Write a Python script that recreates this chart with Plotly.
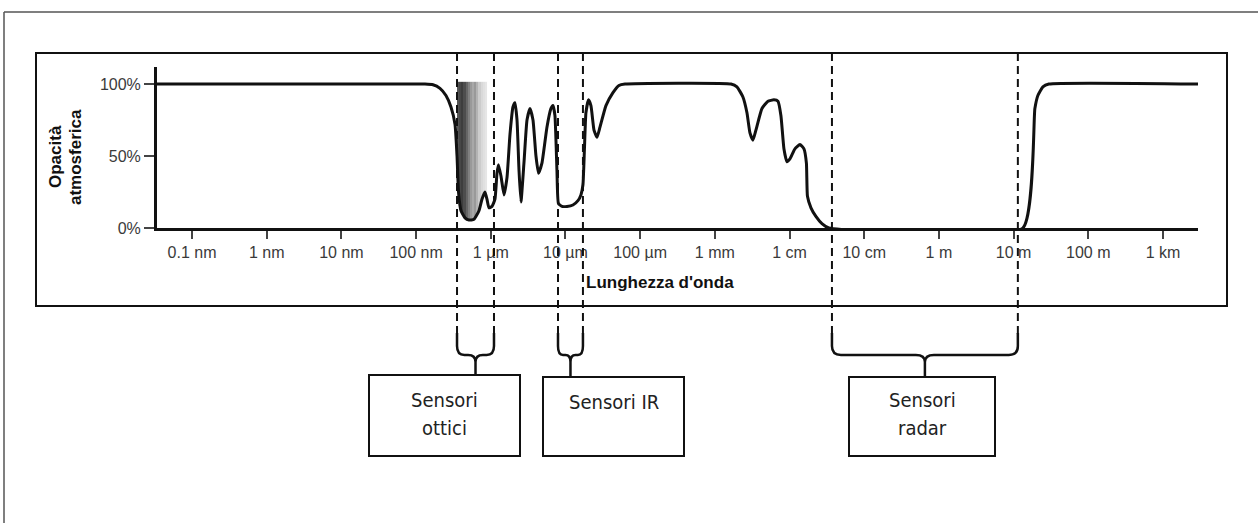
import numpy as np
import plotly.graph_objects as go

# ---------------- data ----------------
# wavelength given as log10(lambda / m)
wl_exp = [-10.469, -6.881, -6.774, -6.680, -6.600, -6.533, -6.479, -6.452, -6.432, -6.399,
          -6.345, -6.292, -6.225, -6.158, -6.118, -6.078, -6.051, -6.024, -5.984, -5.944,
          -5.917, -5.897, -5.863, -5.823, -5.783, -5.743, -5.703, -5.676, -5.649, -5.622,
          -5.596, -5.556, -5.515, -5.475, -5.435, -5.395, -5.361, -5.315, -5.248, -5.194,
          -5.167, -5.141, -5.114, -5.094, -5.047, -4.980, -4.900, -4.833, -4.793, -4.766,
          -4.746, -4.726, -4.692, -4.659, -4.618, -4.578, -4.538, -4.458, -4.364, -4.284,
          -4.203, -2.784, -2.704, -2.624, -2.570, -2.530, -2.490, -2.450, -2.369, -2.289,
          -2.209, -2.155, -2.115, -2.075, -2.035, -1.995, -1.928, -1.861, -1.807, -1.774,
          -1.760, -1.713, -1.647, -1.566, -1.473, 1.124, 1.285, 1.325, 1.392, 1.472, 3.469]
opacity_pct = [100, 100, 99.5, 97, 92, 84, 72, 50, 25, 12,
               7, 5.5, 6, 12, 20, 25, 20, 14, 15, 20,
               38, 44, 36, 23, 35, 65, 84, 87, 75, 40,
               18, 45, 75, 83, 75, 50, 38, 45, 70, 83,
               85, 78, 40, 17, 15, 15, 16, 19, 23, 30,
               55, 80, 89, 85, 68, 63, 70, 85, 94, 99,
               100, 100, 98, 91, 80, 66, 61, 68, 83, 88,
               89, 88, 78, 55, 46, 48, 55, 58, 55, 45,
               22, 14, 8, 3, 0, 0, 83, 92, 98, 100, 100]

tick_exp = list(range(-10, 4))
tick_labels = ["0.1 nm", "1 nm", "10 nm", "100 nm", "1 µm", "10 µm", "100 µm",
               "1 mm", "1 cm", "10 cm", "1 m", "10 m", "100 m", "1 km"]
y_ticks = [0, 50, 100]
y_tick_labels = ["0%", "50%", "100%"]

visible_band = [-6.452, -6.051]      # log10(m), grey-shaded visible light
visible_top = 101.5
visible_shade = [0.33, 0.28, 0.24, 0.30, 0.40, 0.50, 0.60, 0.66, 0.60, 0.70, 0.80, 0.85, 0.88, 0.90]

sensor_lines = [["Sensori", "ottici"], ["Sensori IR"], ["Sensori", "radar"]]
sensor_lo = [-6.452, -5.100, -1.432]
sensor_hi = [-5.957, -4.766, 1.057]

x_title = "Lunghezza d'onda"
y_title = ["Opacità", "atmosferica"]

# ---------------- layout constants ----------------
W, H = 1258, 523
LM, RM, TM, BM = 157, 60, 67, 295
X_RANGE = [-10.469, 3.469]
Y_RANGE = [0, 111.8]
PW, PH = W - LM - RM, H - TM - BM
PPD = PW / (X_RANGE[1] - X_RANGE[0])


def pxx(px):
    return (px - LM) / PW


def pxy(py):
    return (H - BM - py) / PH


def dpx(v):
    return (v - X_RANGE[0]) / (X_RANGE[1] - X_RANGE[0])


FONT = "Liberation Sans, Arial, sans-serif"
BOXFONT = "Liberation Sans Narrow, DejaVu Sans Condensed, Arial Narrow, sans-serif"

fig = go.Figure()

# visible band gradient
n = len(visible_shade)
xe = np.linspace(visible_band[0], visible_band[1], n + 1)
fig.add_trace(go.Heatmap(
    x=xe, y=[4, visible_top], z=[visible_shade],
    colorscale=[[0, "black"], [1, "white"]], zmin=0, zmax=1,
    showscale=False, hoverinfo="skip"))

# opacity curve
fig.add_trace(go.Scatter(
    x=wl_exp, y=opacity_pct, mode="lines",
    line=dict(color="#111111", width=3, shape="spline", smoothing=0.45),
    fill="tozeroy", fillcolor="white", hoverinfo="skip", showlegend=False))

shapes = []
# outer frame (top & left)
shapes.append(dict(type="line", xref="paper", yref="paper", x0=pxx(4), x1=pxx(1262),
                   y0=pxy(12), y1=pxy(12), line=dict(color="#555555", width=1.5)))
shapes.append(dict(type="line", xref="paper", yref="paper", x0=pxx(4), x1=pxx(4),
                   y0=pxy(12), y1=pxy(530), line=dict(color="#555555", width=1.5)))
# inner frame
shapes.append(dict(type="rect", xref="paper", yref="paper", x0=pxx(36), x1=pxx(1227),
                   y0=pxy(306), y1=pxy(53), line=dict(color="#111111", width=2)))

DASH_TOP, DASH_BOT = 53, 335
BR_TOP, BR_CORNER, BR_H, BR_CUSP = 333, 346, 355, 362
box_px = [(369, 520, 375, 456), (543, 684, 377, 456), (849, 995, 377, 456)]
text_y = [[400, 428], [402], [400, 428]]

for i in range(len(sensor_lo)):
    for v in (sensor_lo[i], sensor_hi[i]):
        shapes.append(dict(type="line", xref="paper", yref="paper", x0=dpx(v), x1=dpx(v),
                           y0=pxy(DASH_TOP), y1=pxy(DASH_BOT),
                           line=dict(color="#111111", width=2, dash="8px,5px")))
    xa, xb = dpx(sensor_lo[i]), dpx(sensor_hi[i])
    xc = (xa + xb) / 2
    half_px = (sensor_hi[i] - sensor_lo[i]) * PPD / 2
    r = min(9.0, half_px / 2.5) / PW
    top = box_px[i][2]
    path = (f"M{xa},{pxy(BR_TOP)} L{xa},{pxy(BR_CORNER)} Q{xa},{pxy(BR_H)} {xa + r},{pxy(BR_H)} "
            f"L{xc - r},{pxy(BR_H)} Q{xc},{pxy(BR_H)} {xc},{pxy(BR_CUSP)} L{xc},{pxy(top)} "
            f"M{xb},{pxy(BR_TOP)} L{xb},{pxy(BR_CORNER)} Q{xb},{pxy(BR_H)} {xb - r},{pxy(BR_H)} "
            f"L{xc + r},{pxy(BR_H)} Q{xc},{pxy(BR_H)} {xc},{pxy(BR_CUSP)}")
    shapes.append(dict(type="path", xref="paper", yref="paper", path=path,
                       line=dict(color="#111111", width=2.5)))
    bx0, bx1, by0, by1 = box_px[i]
    shapes.append(dict(type="rect", xref="paper", yref="paper", x0=pxx(bx0), x1=pxx(bx1),
                       y0=pxy(by1), y1=pxy(by0), line=dict(color="#111111", width=2)))

annotations = []
for i, lines in enumerate(sensor_lines):
    bx0, bx1, _, _ = box_px[i]
    for j, t in enumerate(lines):
        annotations.append(dict(text=t, xref="paper", yref="paper", x=pxx((bx0 + bx1) / 2),
                                y=pxy(text_y[i][j]), showarrow=False, xanchor="center",
                                yanchor="middle", font=dict(family=BOXFONT, size=20, color="#222222")))

# axis titles
annotations.append(dict(text=f"<b>{x_title}</b>", xref="x", yref="paper", x=-4 + 20 / PPD,
                        y=pxy(282), showarrow=False, xanchor="center", yanchor="middle",
                        font=dict(family=FONT, size=17, color="#111111")))
for j, t in enumerate(y_title):
    annotations.append(dict(text=f"<b>{t}</b>", xref="paper", yref="paper", x=pxx(55 + 20 * j),
                            y=pxy(157), showarrow=False, xanchor="center", yanchor="middle",
                            textangle=-90, font=dict(family=FONT, size=17, color="#111111")))

fig.update_layout(
    width=W, height=H, margin=dict(l=LM, r=RM, t=TM, b=BM, pad=0),
    paper_bgcolor="white", plot_bgcolor="white", showlegend=False,
    shapes=shapes, annotations=annotations,
    xaxis=dict(range=X_RANGE, tickvals=tick_exp, ticktext=tick_labels, showgrid=False,
               zeroline=False, showline=True, linecolor="#111111", linewidth=3,
               ticks="outside", ticklen=8, tickwidth=1.5, tickcolor="#444444",
               tickfont=dict(family=FONT, size=16, color="#3a3a3a"), fixedrange=True),
    yaxis=dict(range=Y_RANGE, tickvals=y_ticks, ticktext=y_tick_labels, showgrid=False,
               zeroline=False, showline=True, linecolor="#111111", linewidth=3,
               ticks="outside", ticklen=10, tickwidth=1.5, tickcolor="#444444",
               tickfont=dict(family=FONT, size=16, color="#3a3a3a"), fixedrange=True),
)

fig.write_html("out.html", config={"displayModeBar": False},
               post_script="document.body.style.margin='0px';document.body.style.overflow='hidden';")
